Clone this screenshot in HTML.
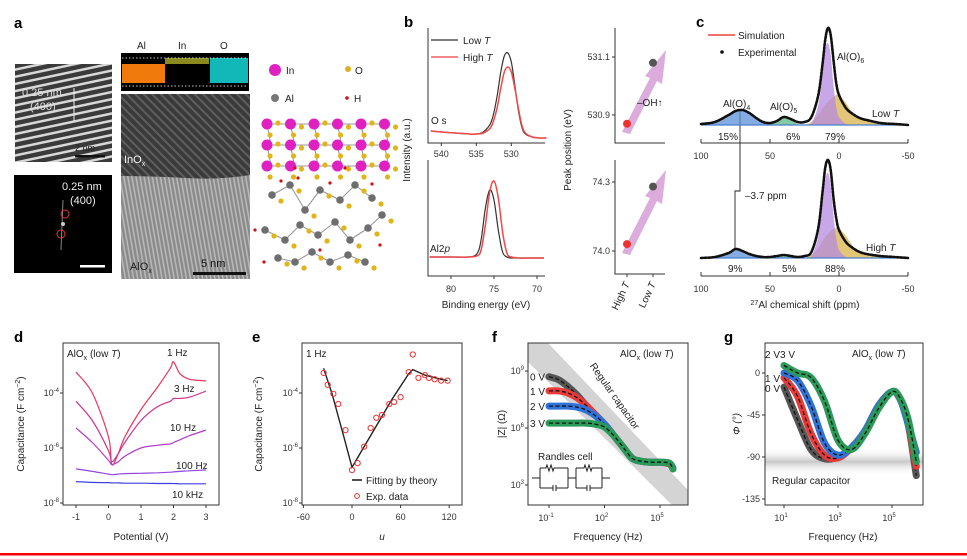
<!DOCTYPE html>
<html><head><meta charset="utf-8"><style>
html,body{margin:0;padding:0;background:#fff;}
svg{display:block;font-family:"Liberation Sans",sans-serif;}
.t{font-size:10px;fill:#222}
.tk{font-size:9px;fill:#333}
.lb{font-size:15px;font-weight:bold;fill:#000}
</style></head><body>
<svg id="fig" width="967" height="559" viewBox="0 0 967 559" xmlns="http://www.w3.org/2000/svg">
<defs>
<pattern id="lat" width="7" height="7" patternUnits="userSpaceOnUse" patternTransform="rotate(-12)"><rect width="7" height="7" fill="#3a3a3a"/><rect width="7" height="2.5" fill="#d8d8d8"/></pattern>
<pattern id="tem" width="4" height="4" patternUnits="userSpaceOnUse" patternTransform="rotate(80)"><rect width="4" height="4" fill="#8a8a8a"/><rect width="4" height="1.6" fill="#b8b8b8"/></pattern>
<pattern id="tem2" width="6" height="6" patternUnits="userSpaceOnUse" patternTransform="rotate(45)"><rect width="6" height="6" fill="#3a3a3a"/><rect width="6" height="2" fill="#5e5e5e"/></pattern>
<linearGradient id="diag" x1="0" y1="0" x2="1" y2="0"><stop offset="0" stop-color="#fff" stop-opacity="0"/><stop offset="0.5" stop-color="#bbb"/><stop offset="1" stop-color="#fff" stop-opacity="0"/></linearGradient>
<linearGradient id="hband" x1="0" y1="0" x2="0" y2="1"><stop offset="0" stop-color="#fff" stop-opacity="0"/><stop offset="0.5" stop-color="#c8c8c8"/><stop offset="1" stop-color="#fff" stop-opacity="0"/></linearGradient>
</defs>
<rect x="0" y="0" width="967" height="559" fill="#fff"/>
<rect x="0" y="553" width="967" height="2.5" fill="#f00"/>

<!-- Panel a -->
<text x="14" y="28" class="lb">a</text>
<g>
<rect x="15" y="64" width="97" height="98" fill="url(#lat)"/>
<text x="22" y="96" font-size="11" fill="#ddd">0.25 nm</text><text x="30" y="110" font-size="11" fill="#ddd">(400)</text>
<line x1="74" y1="88" x2="74" y2="121" stroke="#eee" stroke-width="1"/>
<rect x="75" y="155" width="30" height="2.5" fill="#111"/><text x="75" y="151" font-size="9" fill="#222">2 nm</text>
</g>
<g>
<rect x="14" y="175" width="98" height="98" fill="#000"/>
<text x="62" y="190" font-size="11" fill="#eee">0.25 nm</text><text x="70" y="204" font-size="11" fill="#eee">(400)</text>
<line x1="63" y1="200" x2="61" y2="250" stroke="#888" stroke-width="1"/>
<circle cx="65" cy="214" r="4" fill="none" stroke="#e33"/><circle cx="61" cy="234" r="4" fill="none" stroke="#e33"/>
<circle cx="63" cy="224" r="2" fill="#ccc"/>
<rect x="80" y="265" width="25" height="2.5" fill="#fff"/>
</g>
<g>
<text x="137" y="49" class="t" font-size="11">Al</text><text x="178" y="49" class="t" font-size="11">In</text><text x="220" y="49" class="t" font-size="11">O</text>
<rect x="121" y="53" width="128" height="38" fill="#000"/>
<rect x="122" y="64" width="43" height="19" fill="#f07a0c"/>
<rect x="165" y="58" width="44" height="6" fill="#8a8a20"/>
<rect x="210" y="58" width="38" height="25" fill="#12b8b8"/>
<line x1="122" y1="58" x2="248" y2="58" stroke="#fff" stroke-dasharray="1.5,2" stroke-width="0.8"/>
<line x1="122" y1="86" x2="248" y2="86" stroke="#fff" stroke-dasharray="1.5,2" stroke-width="0.8"/>
</g>
<g>
<rect x="121" y="94" width="129" height="185" fill="url(#tem)"/>
<path d="M121,94 H250 V175 Q220,180 185,178 T121,176 Z" fill="url(#tem2)"/>
<text x="124" y="163" font-size="11" fill="#eee">InO<tspan font-size="7" dy="3">x</tspan></text>
<text x="130" y="270" font-size="11" fill="#222">AlO<tspan font-size="7" dy="3">x</tspan></text>
<text x="201" y="267" font-size="11" fill="#111">5 nm</text>
<rect x="193" y="272" width="53" height="3" fill="#111"/>
</g>
<g>
<circle cx="275" cy="70" r="6" fill="#e020c0"/><text x="286" y="74" class="t" font-size="11">In</text>
<circle cx="348" cy="69" r="3" fill="#e0b020"/><text x="355" y="74" class="t" font-size="11">O</text>
<circle cx="275" cy="98" r="4" fill="#777"/><text x="285" y="102" class="t" font-size="11">Al</text>
<circle cx="347" cy="98" r="1.8" fill="#d01010"/><text x="354" y="102" class="t" font-size="11">H</text>
</g>
<g id="mol"></g>

<!-- Panel b -->
<text x="404" y="27" class="lb">b</text>
<g id="pb">
<path d="M428,28 V143 H545" fill="none" stroke="#333" stroke-width="1"/>
<path d="M428,160 V276 H545" fill="none" stroke="#333" stroke-width="1"/>
<text x="410" y="150" class="t" transform="rotate(-90 410 150)" text-anchor="middle">Intensity (a.u.)</text>
<text x="486" y="308" class="t" text-anchor="middle">Binding energy (eV)</text>
<line x1="431" y1="40" x2="458" y2="40" stroke="#333" stroke-width="1.2"/>
<text x="463" y="44" class="t">Low <tspan font-style="italic">T</tspan></text>
<line x1="431" y1="57" x2="458" y2="57" stroke="#f06060" stroke-width="1.6"/>
<text x="463" y="61" class="t">High <tspan font-style="italic">T</tspan></text>
<text x="431" y="124" class="t">O s</text>
<text x="430" y="252" class="t">Al2<tspan font-style="italic">p</tspan></text>
<path d="M615,28 V143 H665" fill="none" stroke="#333"/>
<path d="M615,160 V274 H665" fill="none" stroke="#333"/>
<text x="571" y="150" class="t" transform="rotate(-90 571 150)" text-anchor="middle">Peak position (eV)</text>
<polygon points="622,132 650,78 645,76 666,50 662,84 657,81 630,134" fill="#d7a3d8" opacity="0.9"/>
<polygon points="622,253 650,198 645,196 666,170 662,204 657,201 630,255" fill="#d7a3d8" opacity="0.9"/>
<text x="637" y="106" class="t">–OH↑</text>
<text x="630" y="284" class="t" transform="rotate(-65 630 284)" text-anchor="end">High <tspan font-style="italic">T</tspan></text>
<text x="656" y="284" class="t" transform="rotate(-65 656 284)" text-anchor="end">Low <tspan font-style="italic">T</tspan></text>
</g>

<!-- Panel c -->
<text x="696" y="27" class="lb">c</text>
<g id="pc">
<line x1="708" y1="35" x2="735" y2="35" stroke="#f04040" stroke-width="1.4"/>
<text x="738" y="39" class="t">Simulation</text>
<circle cx="722" cy="52" r="1.8" fill="#111"/>
<text x="738" y="56" class="t">Experimental</text>
<text x="723" y="107" class="t">Al(O)<tspan font-size="7" dy="3">4</tspan></text>
<text x="770" y="110" class="t">Al(O)<tspan font-size="7" dy="3">5</tspan></text>
<text x="837" y="60" class="t">Al(O)<tspan font-size="7" dy="3">6</tspan></text>
<text x="872" y="117" class="t">Low <tspan font-style="italic">T</tspan></text>
<text x="866" y="251" class="t">High <tspan font-style="italic">T</tspan></text>
<text x="718" y="140" class="t">15%</text>
<text x="786" y="140" class="t">6%</text>
<text x="825" y="140" class="t">79%</text>
<text x="728" y="272" class="t">9%</text>
<text x="782" y="272" class="t">5%</text>
<text x="825" y="272" class="t">88%</text>
<path d="M740,110 V191 H735 V250" fill="none" stroke="#222" stroke-width="0.9"/>
<text x="745" y="199" class="t">–3.7 ppm</text>
<text x="805" y="308" class="t" text-anchor="middle"><tspan font-size="7" dy="-3">27</tspan><tspan dy="3">Al chemical shift (ppm)</tspan></text>
</g>

<!-- Panels d-g labels -->
<text x="14" y="342" class="lb">d</text>
<text x="252" y="342" class="lb">e</text>
<text x="492" y="342" class="lb">f</text>
<text x="724" y="342" class="lb">g</text>
<g id="pd"></g>
<g id="pe"></g>
<g id="pf"></g>
<g id="pg"></g>
</svg>
<script>
// ---------- data ----------
const o1sEnergy=[541.5,540,538,536,535,534,533,532.5,532,531.5,531,530.5,530,529.5,529,528.5,528,527,526,525];
const o1sLowT=[0.09,0.08,0.07,0.06,0.06,0.08,0.16,0.27,0.45,0.68,0.84,0.87,0.78,0.55,0.3,0.13,0.06,0.03,0.02,0.02];
const o1sHighT=[0.09,0.08,0.07,0.06,0.06,0.07,0.12,0.2,0.33,0.52,0.68,0.73,0.68,0.52,0.32,0.15,0.07,0.03,0.02,0.02];
const o1sTicks=[540,535,530];
const al2pEnergy=[82.5,80,78,77,76.5,76,75.5,75,74.5,74,73.5,73,72,70,69.2];
const al2pLowT=[0.13,0.13,0.13,0.16,0.3,0.62,0.8,0.7,0.4,0.18,0.13,0.12,0.12,0.12,0.12];
const al2pHighT=[0.13,0.13,0.13,0.14,0.2,0.45,0.78,0.89,0.72,0.38,0.17,0.13,0.12,0.12,0.12];
const al2pTicks=[80,75,70];
const peakO=[530.87,531.08]; // High T, Low T
const peakAl=[74.03,74.28];
const peakOTicks=[530.9,531.1];
const peakAlTicks=[74.0,74.3];
const ppm=[100,90,80,75,70,65,60,55,50,45,40,35,30,25,20,15,12,10,8,6,4,2,0,-5,-10,-15,-20,-30,-40,-50];
const nmrLowT=[0.01,0.03,0.1,0.14,0.15,0.12,0.07,0.03,0.02,0.04,0.08,0.06,0.03,0.03,0.08,0.3,0.6,0.85,0.97,0.9,0.65,0.42,0.3,0.17,0.11,0.07,0.05,0.02,0.01,0.0];
const nmrHighT=[0.0,0.01,0.05,0.09,0.07,0.04,0.02,0.01,0.01,0.02,0.03,0.02,0.01,0.02,0.06,0.3,0.65,0.9,0.98,0.88,0.6,0.4,0.28,0.16,0.1,0.06,0.04,0.02,0.01,0.0];
const alo4Low=[0,0.03,0.1,0.14,0.15,0.12,0.07,0.03,0.01,0,0,0,0,0,0,0,0,0,0,0,0,0,0,0,0,0,0,0,0,0];
const alo5Low=[0,0,0,0,0,0,0,0,0.01,0.03,0.07,0.05,0.01,0,0,0,0,0,0,0,0,0,0,0,0,0,0,0,0,0];
const alo6aLow=[0,0,0,0,0,0,0,0,0,0,0,0,0,0,0.02,0.2,0.5,0.75,0.82,0.7,0.4,0.18,0.08,0.01,0,0,0,0,0,0];
const alo6bLow=[0,0,0,0,0,0,0,0,0,0,0,0,0,0,0.03,0.1,0.16,0.2,0.23,0.26,0.28,0.3,0.3,0.22,0.12,0.07,0.04,0.01,0,0];
const alo4High=[0,0.01,0.04,0.08,0.07,0.04,0.02,0.01,0,0,0,0,0,0,0,0,0,0,0,0,0,0,0,0,0,0,0,0,0,0];
const alo5High=[0,0,0,0,0,0,0,0,0,0.01,0.03,0.02,0,0,0,0,0,0,0,0,0,0,0,0,0,0,0,0,0,0];
const alo6aHigh=[0,0,0,0,0,0,0,0,0,0,0,0,0,0,0.02,0.22,0.55,0.78,0.85,0.72,0.42,0.2,0.08,0.01,0,0,0,0,0,0];
const alo6bHigh=[0,0,0,0,0,0,0,0,0,0,0,0,0,0,0.03,0.1,0.17,0.21,0.24,0.27,0.29,0.3,0.3,0.22,0.12,0.07,0.04,0.01,0,0];
const ppmTicks=[100,50,0,-50];
const potential=[-1,-0.5,0,0.1,0.3,0.5,1,1.5,1.9,2,2.2,2.5,3];
const capLabels=["1 Hz","3 Hz","10 Hz","100 Hz","10 kHz"];
const cap1Hz=[-3.24,-4.0,-5.6,-6.6,-6.2,-5.6,-4.6,-3.8,-3.1,-2.87,-3.3,-3.5,-3.56];
const cap3Hz=[-4.3,-5.0,-6.1,-6.5,-6.2,-5.8,-5.0,-4.5,-4.3,-4.2,-4.2,-4.15,-3.93];
const cap10Hz=[-5.27,-5.8,-6.45,-6.6,-6.5,-6.3,-6.0,-5.9,-5.85,-5.8,-5.7,-5.55,-5.35];
const cap100Hz=[-6.76,-6.85,-6.95,-6.97,-6.95,-6.93,-6.92,-6.9,-6.88,-6.87,-6.85,-6.83,-6.8];
const cap10kHz=[-7.22,-7.25,-7.26,-7.27,-7.27,-7.28,-7.28,-7.29,-7.29,-7.29,-7.3,-7.3,-7.3];
const potTicks=[-1,0,1,2,3];
const logCapTicks=[-4,-6,-8];
const uFit=[-35,-25,-10,0,10,30,50,70,75,90,110,118];
const capFit=[-3.1,-4.0,-5.6,-6.7,-6.2,-5.2,-4.2,-3.3,-3.15,-3.35,-3.5,-3.55];
const uExp=[-35,-30,-23,-17,-8,0,7,15,23,30,37,46,52,60,70,75,82,90,95,102,110,118];
const capExp=[-3.27,-3.7,-4.03,-4.4,-5.35,-6.8,-6.55,-5.95,-5.27,-4.9,-4.8,-4.4,-4.33,-4.15,-3.24,-2.6,-3.45,-3.35,-3.45,-3.5,-3.55,-3.55];
const uTicks=[-60,0,60,120];
const logFreqF=[-1,-0.5,0,0.5,1,1.5,2,2.5,3,3.5,4,4.5,5,5.5,5.7];
const logZ0V=[8.7,8.55,8.2,7.75,7.2,6.7,6.2,5.6,5.0,4.4,4.25,4.2,4.2,4.1,3.85];
const logZ1V=[7.95,7.95,7.85,7.6,7.2,6.7,6.2,5.6,5.0,4.4,4.25,4.2,4.2,4.1,3.85];
const logZ2V=[7.15,7.15,7.15,7.1,6.95,6.65,6.2,5.6,5.0,4.4,4.25,4.2,4.2,4.15,3.9];
const logZ3V=[6.26,6.26,6.26,6.26,6.26,6.2,6.05,5.6,5.0,4.4,4.25,4.2,4.2,4.15,3.85];
const logFTicksF=[-1,2,5];
const logZTicks=[9,6,3];
const logFreqG=[1,1.5,2,2.5,3,3.5,4,4.5,5,5.3,5.6,5.9];
const phase0V=[-15,-50,-82,-92,-90,-80,-62,-35,-20,-28,-55,-110];
const phase1V=[-5,-25,-65,-88,-91,-80,-62,-35,-20,-28,-55,-100];
const phase2V=[0,-8,-35,-75,-88,-80,-62,-35,-20,-28,-55,-85];
const phase3V=[8,0,-5,-30,-72,-82,-65,-38,-20,-27,-50,-95];
const logFTicksG=[1,3,5];
const phaseTicks=[0,-45,-90,-135];
const voltLabels=["0 V","1 V","2 V","3 V"];

// ---------- helpers ----------
const NS="http://www.w3.org/2000/svg";
function mk(tag,attrs,parent){const e=document.createElementNS(NS,tag);for(const k in attrs)e.setAttribute(k,attrs[k]);parent.appendChild(e);return e;}
function pathD(xs,ys,fx,fy){return xs.map((x,i)=>(i?'L':'M')+fx(x).toFixed(1)+','+fy(ys[i]).toFixed(1)).join(' ');}
function smoothD(xs,ys,fx,fy){const p=xs.map((x,i)=>[fx(x),fy(ys[i])]);let d='M'+p[0][0].toFixed(1)+','+p[0][1].toFixed(1);for(let i=0;i<p.length-1;i++){const p0=p[i-1]||p[i],p1=p[i],p2=p[i+1],p3=p[i+2]||p2;const c1=[p1[0]+(p2[0]-p0[0])/6,p1[1]+(p2[1]-p0[1])/6],c2=[p2[0]-(p3[0]-p1[0])/6,p2[1]-(p3[1]-p1[1])/6];d+=' C'+c1[0].toFixed(1)+','+c1[1].toFixed(1)+' '+c2[0].toFixed(1)+','+c2[1].toFixed(1)+' '+p2[0].toFixed(1)+','+p2[1].toFixed(1);}return d;}
function sup(parent,x,y,exp,anchor){const t=mk('text',{x:x,y:y,'class':'tk','text-anchor':anchor||'end'},parent);t.textContent='10';const s=mk('tspan',{dy:-4,'font-size':6},t);s.textContent=exp;return t;}

// ---------- molecule illustration ----------
(function(){
 const g=document.getElementById('mol');
 const bonds=mk('g',{stroke:'#999','stroke-width':1.1,fill:'none'},g);
 for(let r=0;r<3;r++){for(let c=0;c<6;c++){const x=267+c*23.5,y=124+r*21;
  if(c<5)mk('line',{x1:x,y1:y,x2:x+23.5,y2:y},bonds);
  if(r<2)mk('line',{x1:x,y1:y,x2:x+4,y2:y+21},bonds);}}
 const gray=[[272,195],[290,185],[305,210],[320,190],[340,200],[355,185],[372,198],[265,230],[285,240],[300,225],[318,235],[335,222],[350,240],[368,228],[382,215],[278,258],[295,262],[312,252],[330,262],[348,255],[365,262]];
 gray.forEach((p,i)=>{const q=gray[(i+1)%gray.length];if(Math.abs(q[0]-p[0])<30)mk('line',{x1:p[0],y1:p[1],x2:q[0],y2:q[1]},bonds);});
 for(let r=0;r<3;r++){for(let c=0;c<6;c++){const x=267+c*23.5,y=124+r*21;
  mk('circle',{cx:x+11,cy:y+(c%2?3:-1),r:2.6,fill:'#e2b418'},g);
  mk('circle',{cx:x+3,cy:y+11,r:2.6,fill:'#e2b418'},g);}}
 for(let r=0;r<3;r++){for(let c=0;c<6;c++){mk('circle',{cx:267+c*23.5,cy:124+r*21,r:5.5,fill:'#e020c0'},g);}}
 gray.forEach(p=>{mk('circle',{cx:p[0],cy:p[1],r:3.8,fill:'#6e6e6e'},g);mk('circle',{cx:p[0]+9,cy:p[1]+6,r:2.6,fill:'#e2b418'},g);});
 [[281,181],[298,178],[330,183],[372,184],[255,230],[320,250],[380,245],[264,262],[295,168],[345,168]].forEach(p=>mk('circle',{cx:p[0],cy:p[1],r:1.6,fill:'#d01010'},g));
})();

// ---------- panel b ----------
(function(){
 const g=document.getElementById('pb');
 const xo=e=>428+(541.9-e)*7, yo=v=>140-v*100;
 const xa=e=>451+(80-e)*8.6, ya=v=>270-v*100;
 let p;
 p=mk('path',{d:smoothD(o1sEnergy,o1sLowT,xo,yo),fill:'none',stroke:'#333','stroke-width':1.2},g);
 
 
 p=mk('path',{d:smoothD(o1sEnergy,o1sHighT,xo,yo),fill:'none',stroke:'#f04848','stroke-width':1.5},g);
 
 
 p=mk('path',{d:smoothD(al2pEnergy,al2pLowT,xa,ya),fill:'none',stroke:'#333','stroke-width':1.2},g);
 
 
 p=mk('path',{d:smoothD(al2pEnergy,al2pHighT,xa,ya),fill:'none',stroke:'#f04848','stroke-width':1.5},g);
 
 
 o1sTicks.forEach(v=>{mk('line',{x1:xo(v),y1:143,x2:xo(v),y2:146,stroke:'#333'},g);const t=mk('text',{x:xo(v),y:157,'class':'tk','text-anchor':'middle'},g);t.textContent=v;
  
  });
 al2pTicks.forEach(v=>{mk('line',{x1:xa(v),y1:276,x2:xa(v),y2:279,stroke:'#333'},g);const t=mk('text',{x:xa(v),y:292,'class':'tk','text-anchor':'middle'},g);t.textContent=v;
  
  });
 const yPO=v=>115-(v-530.9)/0.2*58, yPA=v=>251-(v-74.0)/0.3*69;
 const cols=['#f03030','#555'], xs=[627,653];
 peakOTicks.forEach(v=>{mk('line',{x1:612,y1:yPO(v),x2:615,y2:yPO(v),stroke:'#333'},g);const t=mk('text',{x:610,y:yPO(v)+3,'class':'tk','text-anchor':'end'},g);t.textContent=v.toFixed(1);
  
  });
 peakAlTicks.forEach(v=>{mk('line',{x1:612,y1:yPA(v),x2:615,y2:yPA(v),stroke:'#333'},g);const t=mk('text',{x:610,y:yPA(v)+3,'class':'tk','text-anchor':'end'},g);t.textContent=v.toFixed(1);
  
  });
 xs.forEach(x=>mk('line',{x1:x,y1:274,x2:x,y2:277,stroke:'#333'},g));
 peakO.forEach((v,i)=>{const c=mk('circle',{cx:xs[i],cy:yPO(v),r:4,fill:cols[i]},g);
  
  });
 peakAl.forEach((v,i)=>{const c=mk('circle',{cx:xs[i],cy:yPA(v),r:4,fill:cols[i]},g);
  
  });
})();

// ---------- panel c ----------
(function(){
 const g=document.getElementById('pc');
 const x=p=>839-p*1.38;
 const sets=[[125,nmrLowT,alo4Low,alo5Low,alo6aLow,alo6bLow,143,'low-t'],[258,nmrHighT,alo4High,alo5High,alo6aHigh,alo6bHigh,276,'high-t']];
 sets.forEach(s=>{
  const base=s[0], y=v=>base-v*100;
  const fills=[[s[2],'#5b8fd8'],[s[3],'#5bb88a'],[s[5],'#d9b24a'],[s[4],'#b48ae0']];
  fills.forEach(f=>{const a=mk('path',{d:smoothD(ppm,f[0],x,y)+' L'+x(-50)+','+base+' L'+x(100)+','+base+' Z',fill:f[1],'fill-opacity':0.75,stroke:'none'},g);
   
   });
  mk('line',{x1:x(100),y1:base,x2:x(-50),y2:base,stroke:'#4a7fd0','stroke-width':1.2},g);
  const sim=mk('path',{d:smoothD(ppm,s[1],x,y),fill:'none',stroke:'#f03030','stroke-width':1.3},g);
  
  
  const dots=mk('path',{d:smoothD(ppm,s[1],x,y),fill:'none',stroke:'#111','stroke-width':2.6,'stroke-dasharray':'2.2,1.4','stroke-linecap':'round'},g);
  
  
  const ay=s[6];
  mk('line',{x1:x(100),y1:ay,x2:x(-50),y2:ay,stroke:'#333'},g);
  ppmTicks.forEach(v=>{mk('line',{x1:x(v),y1:ay,x2:x(v),y2:ay-4,stroke:'#333'},g);const t=mk('text',{x:x(v),y:ay+16,'class':'tk','text-anchor':'middle'},g);t.textContent=v;
   
   });
 });
})();

// ---------- box axis helper ----------
function box(g,name){const r=mk('rect',{x:0,y:0,width:0,height:0,fill:'none',stroke:'#333','stroke-width':1},g);return r;}

// ---------- panel d ----------
(function(){
 const g=document.getElementById('pd');
 const X0=63,X1=219,Y0=343,Y1=505;
 const x=v=>108.5+v*32.5, y=v=>393-(v+4)*27.5;
 const r=mk('rect',{x:X0,y:Y0,width:X1-X0,height:Y1-Y0,fill:'none',stroke:'#333'},g);
 
 
 potTicks.forEach(v=>{mk('line',{x1:x(v),y1:Y1,x2:x(v),y2:Y1+3,stroke:'#333'},g);const t=mk('text',{x:x(v),y:Y1+15,'class':'tk','text-anchor':'middle'},g);t.textContent=v;
  
  });
 logCapTicks.forEach(v=>{mk('line',{x1:X0-3,y1:y(v),x2:X0,y2:y(v),stroke:'#333'},g);const t=sup(g,X0-4,y(v)+3,v);
  
  });
 const series=[cap1Hz,cap3Hz,cap10Hz,cap100Hz,cap10kHz], cols=['#ec3558','#d2318e','#b13cc6','#9446de','#3d3fe0'];
 const lx=[167,174,170,176,172], ly=[356,392,431,469,498];
 series.forEach((s,i)=>{const p=mk('path',{d:smoothD(potential,s,x,y),fill:'none',stroke:cols[i],'stroke-width':1.2},g);
  
  
  const t=mk('text',{x:lx[i],y:ly[i],'class':'t'},g);t.textContent=capLabels[i];
  
  });
 const t=mk('text',{x:67,y:357,'class':'t'},g);t.innerHTML='AlO<tspan font-size="7" dy="3">x</tspan><tspan dy="-3"> (low </tspan><tspan font-style="italic">T</tspan>)';
 
 
 const xt=mk('text',{x:141,y:540,'class':'t','text-anchor':'middle'},g);xt.textContent='Potential (V)';
 
 
 const yt=mk('text',{x:24,y:424,'class':'t','text-anchor':'middle',transform:'rotate(-90 24 424)'},g);yt.innerHTML='Capacitance (F cm<tspan font-size="7" dy="-4">−2</tspan><tspan dy="4">)</tspan>';
 
 
})();

// ---------- panel e ----------
(function(){
 const g=document.getElementById('pe');
 const X0=302,X1=462,Y0=343,Y1=505;
 const x=v=>352+v*0.81, y=v=>393-(v+4)*27.5;
 const r=mk('rect',{x:X0,y:Y0,width:X1-X0,height:Y1-Y0,fill:'none',stroke:'#333'},g);
 
 
 uTicks.forEach(v=>{mk('line',{x1:x(v),y1:Y1,x2:x(v),y2:Y1+3,stroke:'#333'},g);const t=mk('text',{x:x(v),y:Y1+15,'class':'tk','text-anchor':'middle'},g);t.textContent=v;
  
  });
 logCapTicks.forEach(v=>{mk('line',{x1:X0-3,y1:y(v),x2:X0,y2:y(v),stroke:'#333'},g);const t=sup(g,X0-4,y(v)+3,v);
  
  });
 const p=mk('path',{d:pathD(uFit,capFit,x,y),fill:'none',stroke:'#222','stroke-width':1.4},g);
 
 
 uExp.forEach((u,i)=>{const c=mk('circle',{cx:x(u),cy:y(capExp[i]),r:2.6,fill:'none',stroke:'#f03030','stroke-width':1},g);
  
  });
 const t1=mk('text',{x:306,y:357,'class':'t'},g);t1.textContent='1 Hz';
 
 
 mk('line',{x1:352,y1:480,x2:362,y2:480,stroke:'#222','stroke-width':1.6},g);
 const l1=mk('text',{x:366,y:484,'class':'t'},g);l1.textContent='Fitting by theory';
 
 
 mk('circle',{cx:357,cy:496,r:2.4,fill:'none',stroke:'#f03030'},g);
 const l2=mk('text',{x:366,y:500,'class':'t'},g);l2.textContent='Exp. data';
 
 
 const xt=mk('text',{x:382,y:540,'class':'t','text-anchor':'middle','font-style':'italic'},g);xt.textContent='u';
 
 
 const yt=mk('text',{x:262,y:424,'class':'t','text-anchor':'middle',transform:'rotate(-90 262 424)'},g);yt.innerHTML='Capacitance (F cm<tspan font-size="7" dy="-4">−2</tspan><tspan dy="4">)</tspan>';
 
 
})();

// ---------- panel f ----------
(function(){
 const g=document.getElementById('pf');
 const X0=528,X1=688,Y0=343,Y1=505;
 const x=v=>549+(v+1)*18.5, y=v=>371-(v-9)*19;
 const band=mk('polygon',{points:'528,343 548,343 688,490 688,505 672,505 528,362',fill:'#c9c9c9',opacity:0.8},g);
 
 
 const rc=mk('text',{x:612,y:398,'class':'t',fill:'#888',transform:'rotate(55 612 398)','text-anchor':'middle'},g);rc.textContent='Regular capacitor';rc.setAttribute('fill','#888');
 
 
 const r=mk('rect',{x:X0,y:Y0,width:X1-X0,height:Y1-Y0,fill:'none',stroke:'#333'},g);
 
 
 logFTicksF.forEach(v=>{mk('line',{x1:x(v),y1:Y1,x2:x(v),y2:Y1+3,stroke:'#333'},g);const t=sup(g,x(v)-3,Y1+16,v,'middle');
  
  });
 logZTicks.forEach(v=>{mk('line',{x1:X0-3,y1:y(v),x2:X0,y2:y(v),stroke:'#333'},g);const t=sup(g,X0-4,y(v)+3,v);
  
  });
 const series=[logZ0V,logZ1V,logZ2V,logZ3V], cols=['#555','#e83a3a','#2f72d8','#2a9a58'];
 series.forEach((s,i)=>{const p=mk('path',{d:smoothD(logFreqF,s,x,y),fill:'none',stroke:cols[i],'stroke-width':7,'stroke-linecap':'round'},g);
  
  
  const f=mk('path',{d:smoothD(logFreqF,s,x,y),fill:'none',stroke:'#111','stroke-width':1.3,'stroke-dasharray':'4,2.5'},g);
  
  
  const t=mk('text',{x:530,y:y(s[0])+4,'class':'t',fill:cols[i]},g);t.textContent=voltLabels[i];t.setAttribute('fill',cols[i]);
  
  });
 const s=mk('text',{x:620,y:357,'class':'t'},g);s.innerHTML='AlO<tspan font-size="7" dy="3">x</tspan><tspan dy="-3"> (low </tspan><tspan font-style="italic">T</tspan>)';
 
 
 const rl=mk('text',{x:538,y:460,'class':'t'},g);rl.textContent='Randles cell';
 
 
 const circ=mk('path',{d:'M532,478 H540 M540,468 V488 M540,468 H546 l1,-3 l2,6 l2,-6 l2,6 l1,-3 H568 M540,488 H553 M553,485 V491 M556,485 V491 M556,488 H568 M568,468 V488 M568,478 H576 M576,468 V488 M576,468 H584 l1,-3 l2,6 l2,-6 l2,6 l1,-3 H602 M576,488 H587 M587,485 V491 M590,485 V491 M590,488 H602 M602,468 V488 M602,478 H610',fill:'none',stroke:'#222','stroke-width':1},g);
 
 
 const xt=mk('text',{x:608,y:540,'class':'t','text-anchor':'middle'},g);xt.textContent='Frequency (Hz)';
 
 
 const yt=mk('text',{x:505,y:424,'class':'t','text-anchor':'middle',transform:'rotate(-90 505 424)'},g);yt.textContent='|Z| (Ω)';
 
 
})();

// ---------- panel g ----------
(function(){
 const g=document.getElementById('pg');
 const X0=765,X1=923,Y0=343,Y1=505;
 const x=v=>784+(v-1)*27, y=v=>373-v*0.933;
 const band=mk('rect',{x:X0,y:y(-80),width:X1-X0,height:y(-110)-y(-80),fill:'url(#hband)'},g);
 
 
 const rc=mk('text',{x:772,y:484,'class':'t'},g);rc.textContent='Regular capacitor';rc.setAttribute('fill','#999');
 
 
 const r=mk('rect',{x:X0,y:Y0,width:X1-X0,height:Y1-Y0,fill:'none',stroke:'#333'},g);
 
 
 logFTicksG.forEach(v=>{mk('line',{x1:x(v),y1:Y1,x2:x(v),y2:Y1+3,stroke:'#333'},g);const t=sup(g,x(v)-3,Y1+16,v,'middle');
  
  });
 phaseTicks.forEach(v=>{mk('line',{x1:X0-3,y1:y(v),x2:X0,y2:y(v),stroke:'#333'},g);const t=mk('text',{x:X0-5,y:y(v)+3,'class':'tk','text-anchor':'end'},g);t.textContent=v;
  
  });
 const series=[phase0V,phase1V,phase2V,phase3V], cols=['#555','#e83a3a','#2f72d8','#2a9a58'];
 series.forEach((s,i)=>{const p=mk('path',{d:smoothD(logFreqG,s,x,y),fill:'none',stroke:cols[i],'stroke-width':7,'stroke-linecap':'round'},g);
  
  
  const f=mk('path',{d:smoothD(logFreqG,s,x,y),fill:'none',stroke:'#111','stroke-width':1.3,'stroke-dasharray':'4,2.5'},g);
  
  });
 const lbx=[765,765,765,780], lby=[392,382,358,358];
 voltLabels.forEach((v,i)=>{const t=mk('text',{x:lbx[i],y:lby[i],'class':'t'},g);t.textContent=v;t.setAttribute('fill',cols[i]);
  
  });
 const s=mk('text',{x:852,y:357,'class':'t'},g);s.innerHTML='AlO<tspan font-size="7" dy="3">x</tspan><tspan dy="-3"> (low </tspan><tspan font-style="italic">T</tspan>)';
 
 
 const xt=mk('text',{x:843,y:540,'class':'t','text-anchor':'middle'},g);xt.textContent='Frequency (Hz)';
 
 
 const yt=mk('text',{x:740,y:424,'class':'t','text-anchor':'middle','font-style':'italic',transform:'rotate(-90 740 424)'},g);yt.textContent='Φ (°)';
 
 
})();
</script>
</body></html>
